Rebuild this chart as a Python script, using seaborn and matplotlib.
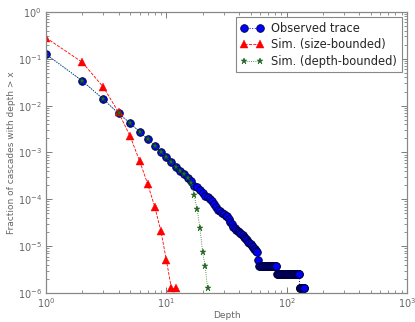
import numpy as np
import pandas as pd
import seaborn as sns
import matplotlib.pyplot as plt

sns.set_style("ticks")
plt.rcParams["font.family"] = ["DejaVu Sans"]
plt.rcParams["mathtext.fontset"] = "cm"

grey = "#666666"

# Observed trace: fraction of cascades with depth > x, x = 1..140
obs_head = [0.125, 0.0336, 0.0136, 0.0068, 0.0042, 0.00277, 0.0019, 0.00137,
            0.00104, 0.00081, 6.2e-4, 4.95e-4, 4.0e-4, 3.47e-4, 2.88e-4,
            2.45e-4, 1.95e-4, 1.8e-4, 1.6e-4, 1.35e-4, 1.2e-4, 1.12e-4,
            1.02e-4, 9.3e-5, 8.0e-5, 6.9e-5, 6.0e-5, 5.5e-5, 5.1e-5, 4.8e-5,
            4.5e-5, 4.3e-5, 3.8e-5, 3.3e-5, 3.0e-5, 2.6e-5, 2.4e-5, 2.2e-5,
            2.1e-5, 2.0e-5, 1.9e-5, 1.85e-5, 1.7e-5, 1.6e-5, 1.5e-5, 1.45e-5,
            1.35e-5, 1.25e-5, 1.15e-5, 1.1e-5, 1.0e-5, 9.5e-6, 8.9e-6, 8.9e-6,
            8.0e-6, 7.8e-6, 7.6e-6, 5.04e-6]
obs_tail = [3.78e-6] * 24 + [2.52e-6] * 45 + [1.26e-6] * 13
obs_y = obs_head + obs_tail
obs_x = list(range(1, len(obs_y) + 1))

# Simulation, size-bounded
size_x = list(range(1, 13))
size_y = [0.28, 0.084, 0.0246, 0.0072, 0.0022, 6.5e-4, 2.1e-4, 6.9e-5,
          2.1e-5, 5.0e-6, 1.26e-6, 1.26e-6]

# Simulation, depth-bounded
depth_x = list(range(1, 23))
depth_y = [0.125, 0.0336, 0.0136, 0.0068, 0.0042, 0.00277, 0.0019, 0.00137,
           0.00104, 0.00081, 6.2e-4, 4.95e-4, 4.0e-4, 3.47e-4, 2.88e-4,
           2.25e-4, 1.23e-4, 6.1e-5, 2.4e-5, 7.6e-6, 3.7e-6, 1.26e-6]

fig = plt.figure(figsize=(4.15, 3.22), dpi=100)
ax = fig.add_axes([0.111, 0.090, 0.870, 0.873])

sns.lineplot(x=obs_x, y=obs_y, ax=ax, color="#0000ff", linestyle=":",
             linewidth=0.7, marker="o", markersize=5.5, markeredgecolor="#000033",
             markeredgewidth=0.6, label="Observed trace", sort=False)
sns.lineplot(x=size_x, y=size_y, ax=ax, color="#ff0000", linestyle="--",
             linewidth=0.6, marker="^", markersize=5.5, markeredgecolor="#ff0000",
             markeredgewidth=0.3, label="Sim. (size-bounded)", sort=False)
sns.lineplot(x=depth_x, y=depth_y, ax=ax, color="#1a7a1a", linestyle=":",
             linewidth=0.6, marker="*", markersize=4.5, markeredgecolor="#0b3d0b",
             markeredgewidth=0.3, label="Sim. (depth-bounded)", sort=False)

ax.set_xscale("log")
ax.set_yscale("log")
ax.set_xlim(1, 1000)
ax.set_ylim(1e-6, 1)

ax.set_xlabel("Depth", fontsize=6.5, color=grey, labelpad=1)
ax.set_ylabel("Fraction of cascades with depth > x", fontsize=6.5, color=grey,
              labelpad=1)
ax.tick_params(which="both", direction="in", top=True, right=True,
               colors=grey, labelsize=7)
ax.tick_params(which="major", length=4, width=0.6)
ax.tick_params(which="minor", length=2, width=0.5)
ax.tick_params(axis="x", pad=2)
ax.tick_params(axis="y", pad=3)
for s in ax.spines.values():
    s.set_color("#888888")
    s.set_linewidth(0.9)

leg = ax.legend(loc="upper right", numpoints=2, fontsize=8.3, frameon=True,
                fancybox=False, borderpad=0.4, handlelength=2.0,
                handletextpad=0.7, labelspacing=0.3, borderaxespad=0.45)
leg.get_frame().set_edgecolor("#888888")
leg.get_frame().set_linewidth(0.8)
leg.get_frame().set_alpha(1.0)

fig.savefig("out.png", dpi=100)
plt.close(fig)
